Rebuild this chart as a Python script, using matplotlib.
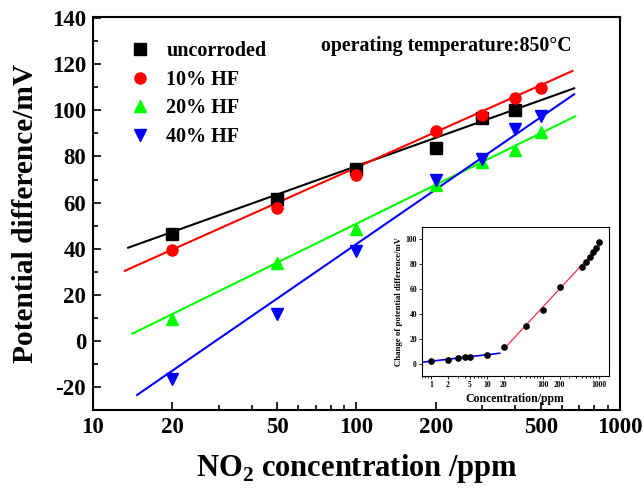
import numpy as np
import matplotlib
matplotlib.use("Agg")
import matplotlib.pyplot as plt
from matplotlib.ticker import FixedLocator, NullFormatter

plt.rcParams['font.family'] = ['Liberation Serif', 'DejaVu Serif']
plt.rcParams['font.weight'] = 'bold'
plt.rcParams['axes.unicode_minus'] = False
plt.rcParams['mathtext.fontset'] = 'custom'
plt.rcParams['mathtext.rm'] = 'Liberation Serif:bold'
plt.rcParams['mathtext.bf'] = 'Liberation Serif:bold'

# main chart data
conc = [20, 50, 100, 200, 300, 400, 500]
uncorroded_x = [20, 50, 100, 200, 300, 400]
uncorroded = [46.5, 61.5, 74.5, 83.5, 96.5, 100.2]
hf10 = [39.5, 57.5, 71.8, 91.2, 98.2, 105.2, 109.5]
hf20 = [9.5, 33.8, 48.5, 67.5, 77.8, 83.0, 90.8]
hf40 = [-16.5, 11.7, 38.8, 70.0, 79.0, 92.0, 97.5]

# linear fits (y = intercept + slope*log10(c))
fit_intercept = [-5.9, -26.8, -61.4, -115.3]
fit_slope = [40.86, 51.03, 56.12, 78.66]
fit_start = [13.6, 13.2, 14.1, 14.7]
fit_end = [670, 660, 676, 670]

# inset data
inset_x = [1, 2, 3, 4, 5, 10, 20, 50, 100, 200, 500, 600, 700, 800, 900, 1000]
inset_y = [2.2, 2.7, 4.3, 5.6, 5.6, 7.0, 13.4, 30.4, 43.5, 61.3, 77.4, 81.5, 85.5, 89.5, 93.0, 97.6]

series = [
    ("uncorroded", uncorroded_x, uncorroded, "black", "s"),
    ("10% HF", conc, hf10, "#ff0000", "o"),
    ("20% HF", conc, hf20, "#00ff00", "^"),
    ("40% HF", conc, hf40, "#0000ff", "v"),
]

fig = plt.figure(figsize=(6.44, 4.92), dpi=100)
ax = fig.add_axes([0.1444, 0.1667, 0.8183, 0.7987])

for i, (name, xs, ys, color, marker) in enumerate(series):
    xf = np.array([fit_start[i], fit_end[i]])
    ax.plot(xf, fit_intercept[i] + fit_slope[i] * np.log10(xf), color=color, lw=1.5, zorder=2)
    ax.plot(xs, ys, linestyle='none', marker=marker, color=color,
            markersize=8, label=name, zorder=3)

ax.set_xscale('log')
ax.set_xlim(10, 1000)
ax.set_ylim(-30, 140.5)
ax.set_xticks([10, 20, 50, 100, 200, 500, 1000])
ax.set_xticklabels(['10', '20', '50', '100', '200', '500', '1000'])
ax.xaxis.set_minor_formatter(NullFormatter())
ax.set_yticks(np.arange(-20, 141, 20))
ax.yaxis.set_minor_locator(FixedLocator(np.arange(-30, 141, 10)))
ax.tick_params(which='both', direction='in', top=False, right=False,
               labelsize=16.5, width=1.2)
ax.tick_params(which='major', length=6, pad=5)
ax.tick_params(which='minor', length=3.5)
for s in ax.spines.values():
    s.set_linewidth(1.5)

ax.set_xlabel(r'NO$_2$ concentration /ppm', fontsize=22, fontweight='bold', labelpad=10)
ax.set_ylabel('Potential difference/mV', fontsize=21.2, fontweight='bold', labelpad=9)

ax.legend(loc='upper left', bbox_to_anchor=(0.032, 0.985), frameon=False,
          fontsize=14.5, handletextpad=0.7, labelspacing=0.43, handlelength=1.2)
ax.text(0.433, 0.925, 'operating temperature:850°C', transform=ax.transAxes,
        fontsize=14.3, fontweight='bold', va='center')

# inset
ins = fig.add_axes([0.655, 0.2358, 0.290, 0.3028])
low = [i for i, v in enumerate(inset_x) if v <= 10]
high = [i for i, v in enumerate(inset_x) if v >= 20]
bl, al = np.polyfit(np.log10([inset_x[i] for i in low]), [inset_y[i] for i in low], 1)
bh, ah = np.polyfit(np.log10([inset_x[i] for i in high]), [inset_y[i] for i in high], 1)
xl = np.array([0.7, 17])
xh = np.array([20, 1150])
ins.plot(xl, al + bl * np.log10(xl), color='#0000ff', lw=1.2)
ins.plot(xh, ah + bh * np.log10(xh), color='#ff3050', lw=0.9)
ins.plot(inset_x, inset_y, linestyle='none', marker='o', color='black', markersize=3.8)
ins.set_xscale('log')
ins.set_xlim(0.69, 1500)
ins.set_ylim(-10, 110)
ins.set_xticks([1, 2, 5, 10, 20, 100, 200, 1000])
ins.set_xticklabels(['1', '2', '5', '10', '20', '100', '200', '1000'])
ins.xaxis.set_minor_formatter(NullFormatter())
ins.set_yticks([0, 20, 40, 60, 80, 100])
ins.tick_params(which='both', direction='out', labelsize=5.5, length=2, width=0.6, pad=1.5)
ins.tick_params(which='minor', length=1.2)
for s in ins.spines.values():
    s.set_linewidth(0.8)
ins.set_xlabel('Concentration/ppm', fontsize=8.5, fontweight='bold', labelpad=3)
ins.set_ylabel('Change of potential difference/mV', fontsize=6.3, fontweight='bold', labelpad=2)

fig.savefig('out.png', dpi=100)
